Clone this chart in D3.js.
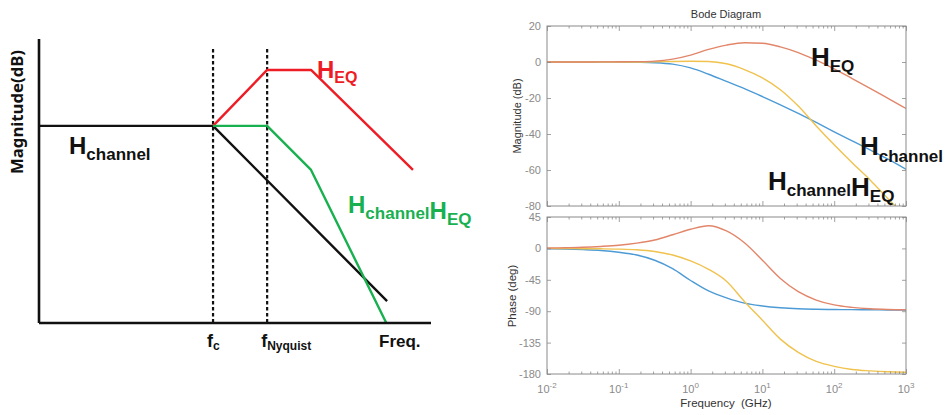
<!DOCTYPE html>
<html>
<head>
<meta charset="utf-8">
<script src="https://cdn.jsdelivr.net/npm/d3@7"></script>
<style>
  html, body { margin: 0; padding: 0; background: #fff; }
  svg { display: block; }
</style>
</head>
<body>
<svg id="chart" width="949" height="415"></svg>
<script>
// ---------- Sketch (asymptotic) Bode plot, arbitrary units 0..100 ----------
const sketchChannel = [[0, 69.4], [44.4, 69.4], [88.8, 7.7]];
const sketchEq = [[44.4, 69.4], [58.2, 89.1], [69.4, 89.1], [95.4, 53.9]];
const sketchProduct = [[44.4, 69.4], [58.2, 69.4], [69.4, 53.9], [88.6, 0]];
const sketchMarkers = [
  { x: 44.4, name: "f", sub: "c" },
  { x: 58.2, name: "f", sub: "Nyquist" }
];

// ---------- Computed Bode diagram ----------
const freqGHz = [0.01, 0.0178, 0.0316, 0.0562, 0.1, 0.178, 0.316, 0.562, 1, 1.78, 3.16, 5.62,
                 10, 17.8, 31.6, 56.2, 100, 178, 316, 562, 1000];
const magChannel = [0, 0, 0, 0, -0.05, -0.15, -0.4, -1.2, -3.3, -6.8, -10.8, -14.8,
                    -19.2, -23.8, -28.6, -33.6, -38.8, -43.8, -48.8, -54, -59.6];
const magEq = [0, 0, 0, 0.05, 0.1, 0.2, 0.5, 1.6, 3.8, 7.0, 9.4, 10.7,
               10.4, 8.4, 5.2, 1.0, -3.8, -9.2, -14.6, -20.2, -25.8];
const magProduct = [0, 0, 0, 0, 0, 0, 0.1, 0.3, 0.4, 0.3, -1.0, -4.2,
                    -8.8, -15.4, -24.5, -35.5, -46, -56, -65.5, -76, -86];
const phaseChannel = [-0.5, -1, -1.8, -3, -5.5, -9.5, -17, -29, -46, -61, -71, -78.5,
                      -82.5, -85, -86.5, -87.2, -87.6, -87.8, -88, -88.2, -88.3];
const phaseEq = [0.5, 1, 1.6, 2.8, 4.5, 7.5, 12, 19.5, 27.5, 32.5, 25, 8,
                 -17, -43, -62, -74, -81, -84.5, -86.5, -87.5, -88];
const phaseProduct = [0, -0.2, -0.4, -0.6, -1, -2, -4.5, -9.5, -18, -30, -47, -76,
                      -103, -130, -149, -162, -169, -173.5, -175.5, -176.8, -177.5];
const magTicks = [20, 0, -20, -40, -60, -80];
const phaseTicks = [45, 0, -45, -90, -135, -180];
const decadeTicks = [0.01, 0.1, 1, 10, 100, 1000];
const decadeExponents = ["-2", "-1", "0", "1", "2", "3"];

const svg = d3.select("#chart");

// ================= Left: sketch =================
const sx = d3.scaleLinear().domain([0, 100]).range([39, 431]);
const sy = d3.scaleLinear().domain([0, 100]).range([323, 39]);
const sLine = d3.line().x(d => sx(d[0])).y(d => sy(d[1]));
const left = svg.append("g");

// dashed markers
left.selectAll("line.marker").data(sketchMarkers).join("line")
  .attr("class", "marker")
  .attr("x1", d => sx(d.x)).attr("x2", d => sx(d.x))
  .attr("y1", sy(96.5)).attr("y2", sy(0))
  .attr("stroke", "#111").attr("stroke-width", 2.2).attr("stroke-dasharray", "3.5,2.5");

const sketchSeries = [
  { pts: sketchChannel, color: "#111111" },
  { pts: sketchEq, color: "#ee1c24" },
  { pts: sketchProduct, color: "#19b050" }
];
left.selectAll("path.sk").data(sketchSeries).join("path")
  .attr("class", "sk")
  .attr("d", d => sLine(d.pts))
  .attr("fill", "none").attr("stroke", d => d.color).attr("stroke-width", 2.4)
  .attr("stroke-linejoin", "round");

// axes
left.append("line").attr("x1", sx(0)).attr("x2", sx(0)).attr("y1", sy(100)).attr("y2", sy(0))
  .attr("stroke", "#111").attr("stroke-width", 2.6);
left.append("line").attr("x1", sx(0)).attr("x2", sx(100)).attr("y1", sy(0)).attr("y2", sy(0))
  .attr("stroke", "#111").attr("stroke-width", 2.6);

left.append("text")
  .attr("transform", `translate(23,112) rotate(-90)`)
  .attr("text-anchor", "middle")
  .attr("font-family", "'Noto Sans', 'Liberation Sans', sans-serif")
  .attr("font-weight", "bold").attr("font-size", 16)
  .attr("textLength", 124).attr("lengthAdjust", "spacingAndGlyphs")
  .attr("fill", "#111").text("Magnitude(dB)");

// marker labels
const markerLabels = left.selectAll("text.ml").data(sketchMarkers).join("text")
  .attr("class", "ml")
  .attr("x", d => sx(d.x) - 6).attr("y", 347)
  .attr("font-family", "'Liberation Sans', Arial, sans-serif")
  .attr("font-weight", "bold").attr("font-size", 18).attr("fill", "#111");
markerLabels.append("tspan").text(d => d.name);
markerLabels.append("tspan").attr("dy", 3).attr("font-size", 12).text(d => d.sub);

left.append("text").attr("x", 379).attr("y", 347)
  .attr("font-family", "'Liberation Sans', Arial, sans-serif")
  .attr("font-weight", "bold").attr("font-size", 17).attr("fill", "#111").text("Freq.");

// big H labels with subscripts
function hLabel(g, x, y, parts, color, big, small, drop) {
  const t = g.append("text").attr("x", x).attr("y", y)
    .attr("font-family", "'Liberation Sans', Arial, sans-serif")
    .attr("font-weight", "bold").attr("fill", color);
  parts.forEach(p => {
    t.append("tspan").attr("font-size", big).attr("dy", 0).text("H");
    t.append("tspan").attr("font-size", small).attr("dy", drop).text(p);
    // back to the main baseline
    t.append("tspan").attr("font-size", big).attr("dy", -drop).text("");
  });
  return t;
}
hLabel(left, 69, 154, ["channel"], "#111", 24, 17, 6);
hLabel(left, 317, 78, ["EQ"], "#ee1c24", 24, 16, 5);
hLabel(left, 348, 213, ["channel", "EQ"], "#19b050", 24, 17, 6);

// ================= Right: Bode diagram =================
const bx = d3.scaleLog().domain([0.01, 1000]).range([547, 906]);
const yMag = d3.scaleLinear().domain([-80, 20]).range([206, 26]);
const yPh = d3.scaleLinear().domain([-180, 45]).range([374, 217]);
const right = svg.append("g");
const colors = { channel: "#4d9bd6", eq: "#e2866a", product: "#f0c24e" };
const axisGray = "#8a8a8a";
const font = "'Liberation Sans', Arial, Helvetica, sans-serif";
const plainNumber = d => String(d);

const minorTicks = [];
for (let e = -2; e < 3; e++) for (let m = 2; m <= 9; m++) minorTicks.push(m * Math.pow(10, e));

function panel(y, ticks, series, clipId) {
  const g = right.append("g");
  const [y0, y1] = y.range();
  g.append("clipPath").attr("id", clipId).append("rect")
    .attr("x", bx.range()[0]).attr("y", y1).attr("width", bx.range()[1] - bx.range()[0]).attr("height", y0 - y1);
  const line = d3.line().x((d, i) => bx(freqGHz[i])).y(d => y(d)).curve(d3.curveMonotoneX);
  g.append("g").attr("clip-path", `url(#${clipId})`)
    .selectAll("path").data(series).join("path")
    .attr("d", d => line(d.values)).attr("fill", "none")
    .attr("stroke", d => d.color).attr("stroke-width", 1.4);

  // y axes (ticks inward)
  const yl = g.append("g").attr("transform", `translate(${bx.range()[0]},0)`)
    .call(d3.axisLeft(y).tickValues(ticks).tickSizeInner(-4).tickSizeOuter(0).tickPadding(6).tickFormat(plainNumber));
  const yr = g.append("g").attr("transform", `translate(${bx.range()[1]},0)`)
    .call(d3.axisRight(y).tickValues(ticks).tickSizeInner(-4).tickSizeOuter(0).tickFormat(""));
  // x axes bottom/top, major + minor
  const xb = g.append("g").attr("transform", `translate(0,${y0})`)
    .call(d3.axisBottom(bx).tickValues(decadeTicks).tickSizeInner(-5).tickSizeOuter(0).tickFormat(""));
  const xbm = g.append("g").attr("transform", `translate(0,${y0})`)
    .call(d3.axisBottom(bx).tickValues(minorTicks).tickSizeInner(-2.5).tickSizeOuter(0).tickFormat(""));
  const xt = g.append("g").attr("transform", `translate(0,${y1})`)
    .call(d3.axisTop(bx).tickValues(decadeTicks).tickSizeInner(-5).tickSizeOuter(0).tickFormat(""));
  const xtm = g.append("g").attr("transform", `translate(0,${y1})`)
    .call(d3.axisTop(bx).tickValues(minorTicks).tickSizeInner(-2.5).tickSizeOuter(0).tickFormat(""));
  [yl, yr, xb, xbm, xt, xtm].forEach(a => {
    a.select(".domain").remove();
    a.selectAll("line").attr("stroke", axisGray).attr("stroke-width", 0.8);
    a.selectAll("text").attr("fill", axisGray).attr("font-family", font).attr("font-size", 11);
  });
  g.append("rect").attr("x", bx.range()[0]).attr("y", y1)
    .attr("width", bx.range()[1] - bx.range()[0]).attr("height", y0 - y1)
    .attr("fill", "none").attr("stroke", axisGray).attr("stroke-width", 1);
  return g;
}

panel(yMag, magTicks, [
  { values: magChannel, color: colors.channel },
  { values: magProduct, color: colors.product },
  { values: magEq, color: colors.eq }
], "clipMag");
const phG = panel(yPh, phaseTicks, [
  { values: phaseChannel, color: colors.channel },
  { values: phaseProduct, color: colors.product },
  { values: phaseEq, color: colors.eq }
], "clipPh");

// decade tick labels 10^n
const dl = phG.append("g").selectAll("text").data(decadeTicks).join("text")
  .attr("x", d => bx(d)).attr("y", 393).attr("text-anchor", "middle")
  .attr("font-family", font).attr("font-size", 11).attr("fill", axisGray);
dl.append("tspan").text("10");
dl.append("tspan").attr("dy", -5).attr("font-size", 8).text((d, i) => decadeExponents[i]);

// titles
right.append("text").attr("x", 726).attr("y", 18).attr("text-anchor", "middle")
  .attr("font-family", font).attr("font-size", 11).attr("fill", "#333").text("Bode Diagram");
right.append("text").attr("x", 726).attr("y", 407).attr("text-anchor", "middle")
  .attr("font-family", font).attr("font-size", 11.5).attr("fill", "#333").attr("xml:space", "preserve")
  .text("Frequency  (GHz)");
right.append("text").attr("transform", "translate(521,116) rotate(-90)").attr("text-anchor", "middle")
  .attr("font-family", font).attr("font-size", 11).attr("fill", "#333").text("Magnitude (dB)");
right.append("text").attr("transform", "translate(516,296) rotate(-90)").attr("text-anchor", "middle")
  .attr("font-family", font).attr("font-size", 11.5).attr("fill", "#333").text("Phase (deg)");

// annotations
hLabel(right, 811, 66, ["EQ"], "#111", 26, 17, 6);
hLabel(right, 860, 155, ["channel"], "#111", 26, 17, 7);
hLabel(right, 768, 190, ["channel", "EQ"], "#111", 26, 17, 6);
</script>
</body>
</html>
